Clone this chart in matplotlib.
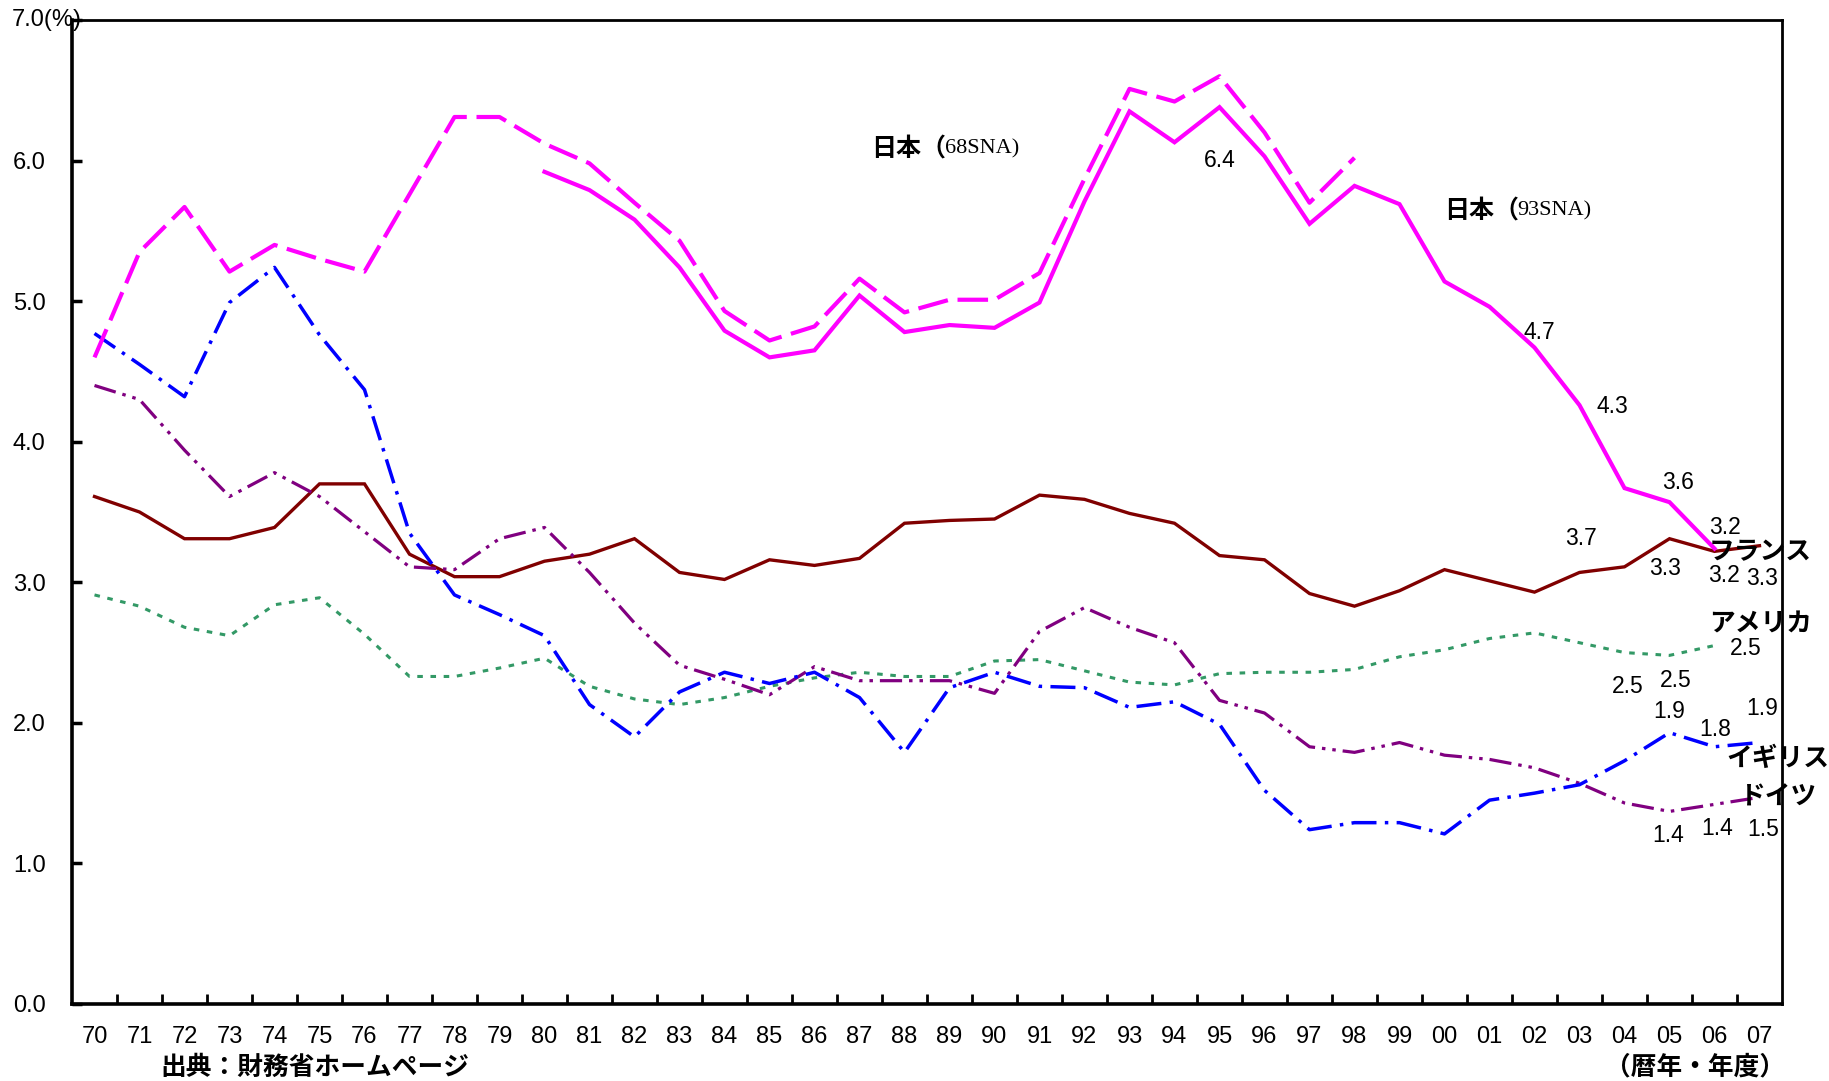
import numpy as np
import matplotlib
matplotlib.use('Agg')
import matplotlib.pyplot as plt
import matplotlib.transforms as mtransforms
from matplotlib import font_manager

years = ['70', '71', '72', '73', '74', '75', '76', '77', '78', '79',
         '80', '81', '82', '83', '84', '85', '86', '87', '88', '89',
         '90', '91', '92', '93', '94', '95', '96', '97', '98', '99',
         '00', '01', '02', '03', '04', '05', '06', '07']

# Japan (68SNA): 1970-1998
japan68_start = '70'
japan68 = [4.60, 5.35, 5.67, 5.21, 5.40, 5.30, 5.21, 5.76, 6.31, 6.31,
           6.12, 5.98, 5.70, 5.43, 4.93, 4.72, 4.82, 5.16, 4.92, 5.01,
           5.01, 5.20, 5.87, 6.51, 6.42, 6.60, 6.20, 5.70, 6.02]
# Japan (93SNA): 1980-2006
japan93_start = '80'
japan93 = [5.92, 5.79, 5.58, 5.24, 4.79, 4.60, 4.65, 5.04, 4.78, 4.83,
           4.81, 4.99, 5.71, 6.35, 6.13, 6.38, 6.03, 5.55, 5.82, 5.69,
           5.14, 4.96, 4.67, 4.26, 3.67, 3.57, 3.24]
france_start = '70'
france = [3.61, 3.50, 3.31, 3.31, 3.39, 3.70, 3.70, 3.20, 3.04, 3.04,
          3.15, 3.20, 3.31, 3.07, 3.02, 3.16, 3.12, 3.17, 3.42, 3.44,
          3.45, 3.62, 3.59, 3.49, 3.42, 3.19, 3.16, 2.92, 2.83, 2.94,
          3.09, 3.01, 2.93, 3.07, 3.11, 3.31, 3.22, 3.26]
usa_start = '70'
usa = [2.91, 2.83, 2.68, 2.62, 2.84, 2.89, 2.63, 2.33, 2.33, 2.39,
       2.46, 2.26, 2.17, 2.13, 2.18, 2.26, 2.32, 2.36, 2.33, 2.33,
       2.44, 2.45, 2.37, 2.29, 2.27, 2.35, 2.36, 2.36, 2.38, 2.47,
       2.52, 2.60, 2.64, 2.57, 2.50, 2.48, 2.55]
uk_start = '70'
uk = [4.77, 4.55, 4.32, 4.99, 5.24, 4.76, 4.37, 3.35, 2.91, 2.77,
      2.62, 2.13, 1.90, 2.22, 2.36, 2.28, 2.36, 2.18, 1.79, 2.25,
      2.36, 2.26, 2.25, 2.11, 2.15, 1.99, 1.52, 1.24, 1.29, 1.29,
      1.21, 1.45, 1.50, 1.56, 1.73, 1.93, 1.83, 1.86]
germany_start = '70'
germany = [4.40, 4.30, 3.94, 3.61, 3.78, 3.61, 3.36, 3.11, 3.09, 3.31,
           3.39, 3.07, 2.71, 2.41, 2.31, 2.20, 2.40, 2.30, 2.30, 2.30,
           2.21, 2.65, 2.82, 2.68, 2.57, 2.16, 2.07, 1.83, 1.79, 1.86,
           1.77, 1.74, 1.68, 1.57, 1.43, 1.37, 1.42, 1.47]

# value labels (text, x in year index, y)
value_labels = [('6.4', 25.0, 6.00), ('4.7', 32.1, 4.78), ('4.3', 33.74, 4.25),
                ('3.6', 35.2, 3.71), ('3.2', 36.24, 3.39), ('3.7', 33.04, 3.31),
                ('3.3', 34.9, 3.10), ('3.2', 36.2, 3.05), ('3.3', 37.06, 3.03),
                ('2.5', 36.7, 2.53), ('2.5', 34.08, 2.26), ('2.5', 35.14, 2.30),
                ('1.9', 35.0, 2.08), ('1.8', 36.02, 1.95), ('1.9', 37.06, 2.10),
                ('1.4', 34.98, 1.20), ('1.4', 36.05, 1.25), ('1.5', 37.08, 1.24)]

# country names (text, left x in year index, y)
country_labels = [('フランス', 35.88, 3.22), ('アメリカ', 35.88, 2.70),
                  ('イギリス', 36.26, 1.75), ('ドイツ', 36.57, 1.47)]

plt.rcParams['lines.scale_dashes'] = False
names = {f.name for f in font_manager.fontManager.ttflist}
num_font = 'Liberation Sans Narrow' if 'Liberation Sans Narrow' in names else 'Liberation Sans'
jp_font = ['Noto Sans CJK JP', 'DejaVu Sans']
serif_font = 'Liberation Serif'

fig = plt.figure(figsize=(18.29, 10.81), dpi=100)
ax = fig.add_axes([72 / 1829, 77 / 1081, 1710 / 1829, 984 / 1081])


def xs(start, values):
    i0 = years.index(start)
    return np.arange(i0, i0 + len(values))


ax.plot(xs(france_start, france), france, color='#800000', lw=2.4, solid_joinstyle='miter')
ax.plot(xs(usa_start, usa), usa, color='#339966', lw=2.2, dashes=(4, 5.5))
ax.plot(xs(germany_start, germany), germany, color='#800080', lw=2.3,
        dashes=(16, 5, 2.5, 5, 2.5, 5))
ax.plot(xs(uk_start, uk), uk, color='#0000FF', lw=2.5, dashes=(18, 6, 2.5, 6))
ax.plot(xs(japan68_start, japan68), japan68, color='#FF00FF', lw=3.0, dashes=(22, 7))
ax.plot(xs(japan93_start, japan93), japan93, color='#FF00FF', lw=3.0, solid_joinstyle='miter')

ax.set_xlim(-0.5, len(years) - 0.5)
ax.set_ylim(0, 7)

# x: tick marks at category borders, labels at centres
ax.set_xticks(np.arange(len(years) - 1) + 0.5)
ax.set_xticklabels([])
ax.set_xticks(np.arange(len(years)), minor=True)
ax.set_xticklabels(years, minor=True, fontfamily=num_font, fontsize=17)
ax.tick_params(axis='x', which='major', direction='in', length=7, width=2, color='black')
ax.tick_params(axis='x', which='minor', length=0, pad=16)

yt = np.arange(0, 8)
ax.set_yticks(yt)
ax.set_yticklabels([f'{v:.1f}' if v < 7 else '' for v in yt], fontfamily=num_font, fontsize=17)
ax.tick_params(axis='y', direction='in', length=7, width=2.5, color='black', pad=19)
ytrans = mtransforms.blended_transform_factory(ax.transAxes, ax.transData)
ax.text(-60 / 1710, 7.0, '7.0(%)', transform=ytrans, ha='left', va='center',
        fontfamily=num_font, fontsize=17)

for side in ['left', 'bottom']:
    ax.spines[side].set_linewidth(2.6)
for side in ['top', 'right']:
    ax.spines[side].set_linewidth(2.0)

for txt, x, y in value_labels:
    ax.text(x, y, txt, ha='center', va='center', fontfamily=num_font, fontsize=16.5)

for txt, x, y in country_labels:
    ax.text(x, y, txt, ha='left', va='center', family=jp_font, fontweight='bold',
            fontsize=18.5, clip_on=False)

# Japan series labels: bold gothic + serif
for x, y, sna in [(17.26, 6.08, '68SNA)'), (29.99, 5.64, '93SNA)')]:
    t1 = ax.text(x, y, '日本（', ha='left', va='center', family=jp_font,
                 fontweight='bold', fontsize=18)
    ax.annotate(sna, xy=(1, 0.5), xycoords=t1, xytext=(-1, 0), textcoords='offset points',
                ha='left', va='center', fontfamily=serif_font, fontsize=16)

fig.text(160 / 1829, 1 - 1067 / 1081, '出典：財務省ホームページ', ha='left', va='center',
         family=jp_font, fontweight='bold', fontsize=18.5)
fig.text(1785 / 1829, 1 - 1067 / 1081, '（暦年・年度）', ha='right', va='center',
         family=jp_font, fontweight='bold', fontsize=18.5)

fig.savefig('out.png', dpi=100, facecolor='white')
